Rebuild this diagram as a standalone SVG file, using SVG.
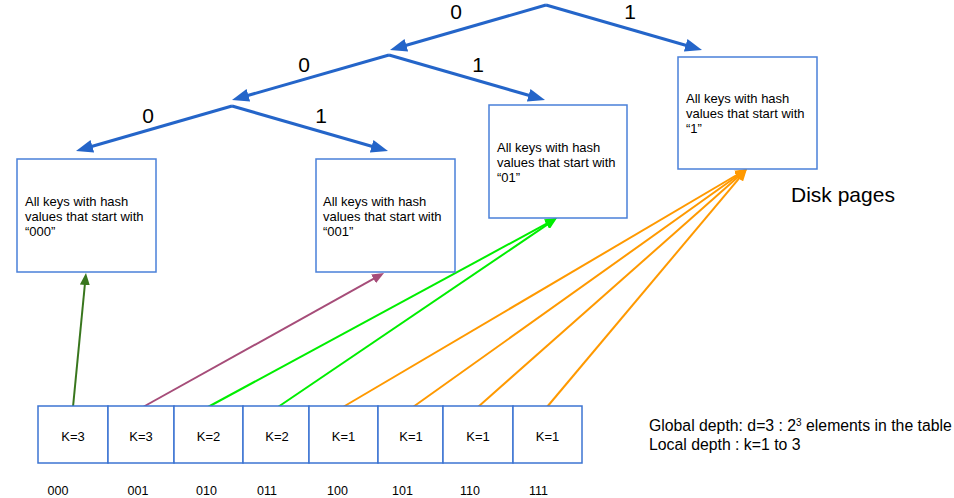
<svg xmlns="http://www.w3.org/2000/svg" width="954" height="498" viewBox="0 0 954 498">
<style>
text{font-family:"Liberation Sans",Arial,sans-serif;fill:#000}
.bit{font-size:21px;text-anchor:middle}
.page{fill:#fff;stroke:#4a80d9;stroke-width:1.5}
.cell{fill:#fff;stroke:#3c74d2;stroke-width:1.5}
.pt{font-size:13px}
.kt{font-size:13px;text-anchor:middle}
.addr{font-size:12.5px}
.tree{stroke:#2465c9;stroke-width:3;fill:none}
.c{stroke-width:2;fill:none}
</style>
<defs>
<marker id="ab" markerUnits="userSpaceOnUse" markerWidth="18" markerHeight="13" refX="9" refY="6.5" orient="auto"><path d="M0,0 L17,6.5 L0,13 z" fill="#2465c9"/></marker>
<marker id="adg" markerUnits="userSpaceOnUse" markerWidth="13" markerHeight="10" refX="6" refY="5" orient="auto"><path d="M0,0 L12,5 L0,10 z" fill="#38761d"/></marker>
<marker id="ap" markerUnits="userSpaceOnUse" markerWidth="13" markerHeight="10" refX="6" refY="5" orient="auto"><path d="M0,0 L12,5 L0,10 z" fill="#a64d79"/></marker>
<marker id="ag" markerUnits="userSpaceOnUse" markerWidth="13" markerHeight="10" refX="6" refY="5" orient="auto"><path d="M0,0 L12,5 L0,10 z" fill="#00ee00"/></marker>
<marker id="ao" markerUnits="userSpaceOnUse" markerWidth="13" markerHeight="10" refX="6" refY="5" orient="auto"><path d="M0,0 L12,5 L0,10 z" fill="#ff9900"/></marker>
</defs>
<rect width="954" height="498" fill="#fff"/>

<g id="connectors">
<g id="tree">
<line class="tree" x1="546" y1="5" x2="397.7" y2="47.8" marker-end="url(#ab)"/>
<line class="tree" x1="546" y1="5" x2="694.3" y2="47.8" marker-end="url(#ab)"/>
<line class="tree" x1="389" y1="55" x2="239.7" y2="97.8" marker-end="url(#ab)"/>
<line class="tree" x1="389" y1="55" x2="537.3" y2="97.8" marker-end="url(#ab)"/>
<line class="tree" x1="232" y1="106" x2="83.7" y2="148.8" marker-end="url(#ab)"/>
<line class="tree" x1="232" y1="106" x2="380.3" y2="148.8" marker-end="url(#ab)"/>
</g>
<g id="bit-labels">
<text class="bit" x="456" y="18.5" font-size="20px">0</text>
<text class="bit" x="630" y="18.5" font-size="20px">1</text>
<text class="bit" x="304" y="72">0</text>
<text class="bit" x="478" y="72">1</text>
<text class="bit" x="148" y="123">0</text>
<text class="bit" x="321" y="123">1</text>
</g>
<g id="pointers">
<line class="c" stroke="#38761d" x1="73" y1="407" x2="85.4" y2="279" marker-end="url(#adg)"/>
<line class="c" stroke="#a64d79" x1="143" y1="407" x2="378.8" y2="275.9" marker-end="url(#ap)"/>
<line class="c" stroke="#00ee00" x1="208" y1="407" x2="551.7" y2="220.9" marker-end="url(#ag)"/>
<line class="c" stroke="#00ee00" x1="278" y1="407" x2="552" y2="221.4" marker-end="url(#ag)"/>
<line class="c" stroke="#ff9900" x1="343" y1="407" x2="741.8" y2="172" marker-end="url(#ao)"/>
<line class="c" stroke="#ff9900" x1="413" y1="407" x2="742.1" y2="172.5" marker-end="url(#ao)"/>
<line class="c" stroke="#ff9900" x1="478" y1="407" x2="742.5" y2="173" marker-end="url(#ao)"/>
<line class="c" stroke="#ff9900" x1="547" y1="407" x2="743.1" y2="173.6" marker-end="url(#ao)"/>
</g>
</g>

<g id="page-000">
<rect class="page" x="17" y="159" width="139" height="113"/>
<text class="pt" x="25" y="206">All keys with hash</text>
<text class="pt" x="25" y="221">values that start with</text>
<text class="pt" x="25" y="236">“000”</text>
</g>
<g id="page-001">
<rect class="page" x="316" y="159" width="139" height="113"/>
<text class="pt" x="323" y="206">All keys with hash</text>
<text class="pt" x="323" y="221">values that start with</text>
<text class="pt" x="323" y="236">“001”</text>
</g>
<g id="page-01">
<rect class="page" x="489" y="105" width="138" height="113"/>
<text class="pt" x="497" y="152">All keys with hash</text>
<text class="pt" x="497" y="167">values that start with</text>
<text class="pt" x="497" y="182">“01”</text>
</g>
<g id="page-1">
<rect class="page" x="678" y="57" width="139" height="112"/>
<text class="pt" x="686" y="103">All keys with hash</text>
<text class="pt" x="686" y="118">values that start with</text>
<text class="pt" x="686" y="133">“1”</text>
</g>
<text x="791" y="202" font-size="21px">Disk pages</text>

<g id="directory">
<g id="cell-000"><rect class="cell" x="38" y="406" width="70" height="57"/><text class="kt" x="73" y="441">K=3</text></g>
<g id="cell-001"><rect class="cell" x="108" y="406" width="66" height="57"/><text class="kt" x="141" y="441">K=3</text></g>
<g id="cell-010"><rect class="cell" x="174" y="406" width="69" height="57"/><text class="kt" x="208.5" y="441">K=2</text></g>
<g id="cell-011"><rect class="cell" x="243" y="406" width="66" height="57"/><text class="kt" x="277" y="441">K=2</text></g>
<g id="cell-100"><rect class="cell" x="309" y="406" width="69" height="57"/><text class="kt" x="343.5" y="441">K=1</text></g>
<g id="cell-101"><rect class="cell" x="378" y="406" width="65" height="57"/><text class="kt" x="411" y="441">K=1</text></g>
<g id="cell-110"><rect class="cell" x="443" y="406" width="70" height="57"/><text class="kt" x="478" y="441">K=1</text></g>
<g id="cell-111"><rect class="cell" x="513" y="406" width="69" height="57"/><text class="kt" x="547.5" y="441">K=1</text></g>
</g>
<g id="addresses">
<text class="addr" x="47.5" y="495">000</text>
<text class="addr" x="127.5" y="495">001</text>
<text class="addr" x="196" y="495">010</text>
<text class="addr" x="257" y="495">011</text>
<text class="addr" x="327" y="495">100</text>
<text class="addr" x="392" y="495">101</text>
<text class="addr" x="460" y="495">110</text>
<text class="addr" x="529" y="495">111</text>
</g>
<g id="legend">
<text x="649" y="431" font-size="15.8px">Global depth: d=3 : 2<tspan font-size="10px" dy="-5">3</tspan><tspan dy="5"> elements in the table</tspan></text>
<text x="649" y="450" font-size="15.8px">Local depth : k=1 to 3</text>
</g>
</svg>
